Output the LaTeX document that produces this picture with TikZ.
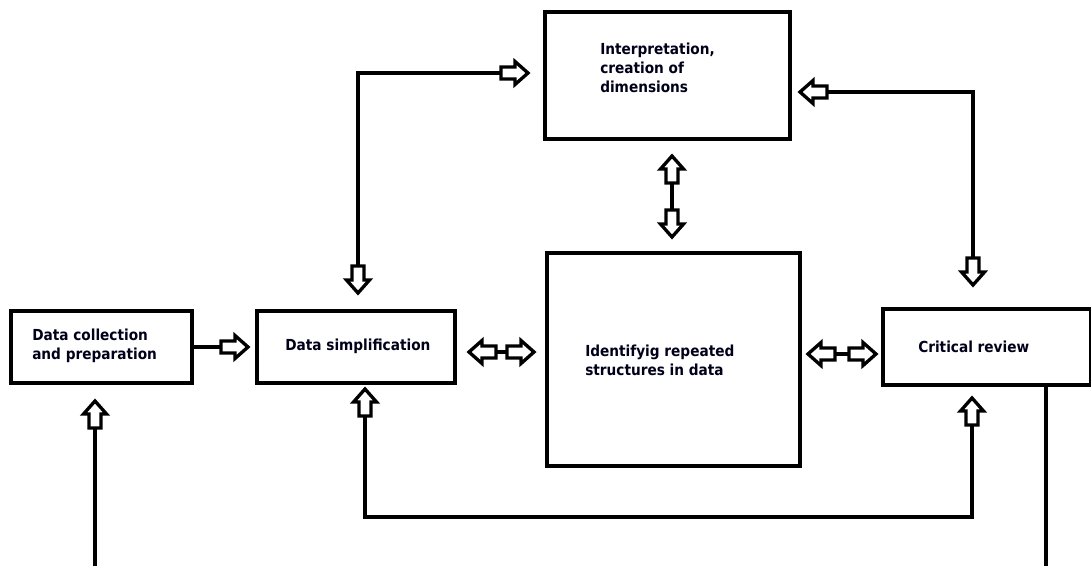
\documentclass[tikz,border=0pt]{standalone}
\usepackage{fontspec}
\setmainfont{DejaVu Sans Condensed}
\usetikzlibrary{fit}
\tikzset{
  box/.style={draw=black, line width=2.7pt, inner sep=0pt, fill=none},
  txt/.style={inner sep=0pt, anchor=west, align=left, text=black!90!blue,
    font=\fontsize{11.4}{14.25}\selectfont\bfseries},
  conn/.style={draw=black, line width=2.6pt, line cap=butt, line join=miter},
  arrline/.style={draw=black, fill=white, line width=2.5pt, line join=miter},
  rarr/.pic={\path[arrline] (-27,-6) -- (-13,-6) -- (-13,-11.5) -- (0,0) -- (-13,11.5) -- (-13,6) -- (-27,6) -- cycle;},
  larr/.pic={\path[arrline] (27,-6) -- (13,-6) -- (13,-11.5) -- (0,0) -- (13,11.5) -- (13,6) -- (27,6) -- cycle;},
  uarr/.pic={\path[arrline] (-6,27) -- (-6,13) -- (-11.5,13) -- (0,0) -- (11.5,13) -- (6,13) -- (6,27) -- cycle;},
  darr/.pic={\path[arrline] (-6,-27) -- (-6,-13) -- (-11.5,-13) -- (0,0) -- (11.5,-13) -- (6,-13) -- (6,-27) -- cycle;},
}
\begin{document}
\begin{tikzpicture}[x=0.75pt, y=-0.75pt]
\useasboundingbox (0,0) rectangle (1091,565);

% boxes
\node[box, fit={(11,311) (192,383)}] (dc) {};
\node[box, fit={(257,311) (455,383)}] (ds) {};
\node[box, fit={(545,12) (790,139)}] (ic) {};
\node[box, fit={(547,253) (800,466)}] (ir) {};
\node[box, fit={(883,309) (1091,385)}] (cr) {};

% texts
\node[txt] (tdc) at (32,345.5) {Data collection\\and preparation};
\node[txt] (tds) at (285,346) {Data simplification};
\node[txt] (tic) at (600,68) {Interpretation,\\creation of\\dimensions};
\node[txt] (tir) at (585,360.5) {Identifyig repeated\\structures in data};
\node[txt] (tcr) at (918,347) {Critical review};

% connector coordinates
\coordinate (a1) at (358,266);
\coordinate (a1tip) at (358,293);
\coordinate (a2) at (501,73);
\coordinate (a2tip) at (528,73);
\coordinate (b1) at (827,92);
\coordinate (b1tip) at (800,92);
\coordinate (b2) at (973,258);
\coordinate (b2tip) at (973,285);
\coordinate (c1) at (672,183);
\coordinate (c1tip) at (672,156);
\coordinate (c2) at (672,210);
\coordinate (c2tip) at (672,237);
\coordinate (d1tip) at (248,347);
\coordinate (d1) at (221,347);
\coordinate (e1tip) at (469,352);
\coordinate (e1) at (496,352);
\coordinate (e2) at (507,352);
\coordinate (e2tip) at (534,352);
\coordinate (f1tip) at (808,354);
\coordinate (f1) at (835,354);
\coordinate (f2) at (849,354);
\coordinate (f2tip) at (876,354);
\coordinate (g1tip) at (95,401);
\coordinate (g1) at (95,428);
\coordinate (g0) at (95,566);
\coordinate (h1tip) at (365,389);
\coordinate (h1) at (365,416);
\coordinate (h2tip) at (972,398);
\coordinate (h2) at (972,425);
\coordinate (k0) at (1046,566);

% connectors
\draw[conn] (a1) -- (a1 |- a2) -- (a2);
\draw[conn] (b1) -- (b1 -| b2) -- (b2);
\draw[conn] (c1) -- (c2);
\draw[conn] (dc.east |- d1) -- (d1);
\draw[conn] (e1) -- (e2);
\draw[conn] (f1) -- (f2);
\draw[conn] (g1) -- (g0);
\draw[conn] (h1) -- (365,517) -- (972,517) -- (h2);
\draw[conn] (cr.south -| k0) -- (k0);

% arrow heads
\pic at (a1tip) {darr};
\pic at (a2tip) {rarr};
\pic at (b1tip) {larr};
\pic at (b2tip) {darr};
\pic at (c1tip) {uarr};
\pic at (c2tip) {darr};
\pic at (d1tip) {rarr};
\pic at (e1tip) {larr};
\pic at (e2tip) {rarr};
\pic at (f1tip) {larr};
\pic at (f2tip) {rarr};
\pic at (g1tip) {uarr};
\pic at (h1tip) {uarr};
\pic at (h2tip) {uarr};
\end{tikzpicture}
\end{document}
